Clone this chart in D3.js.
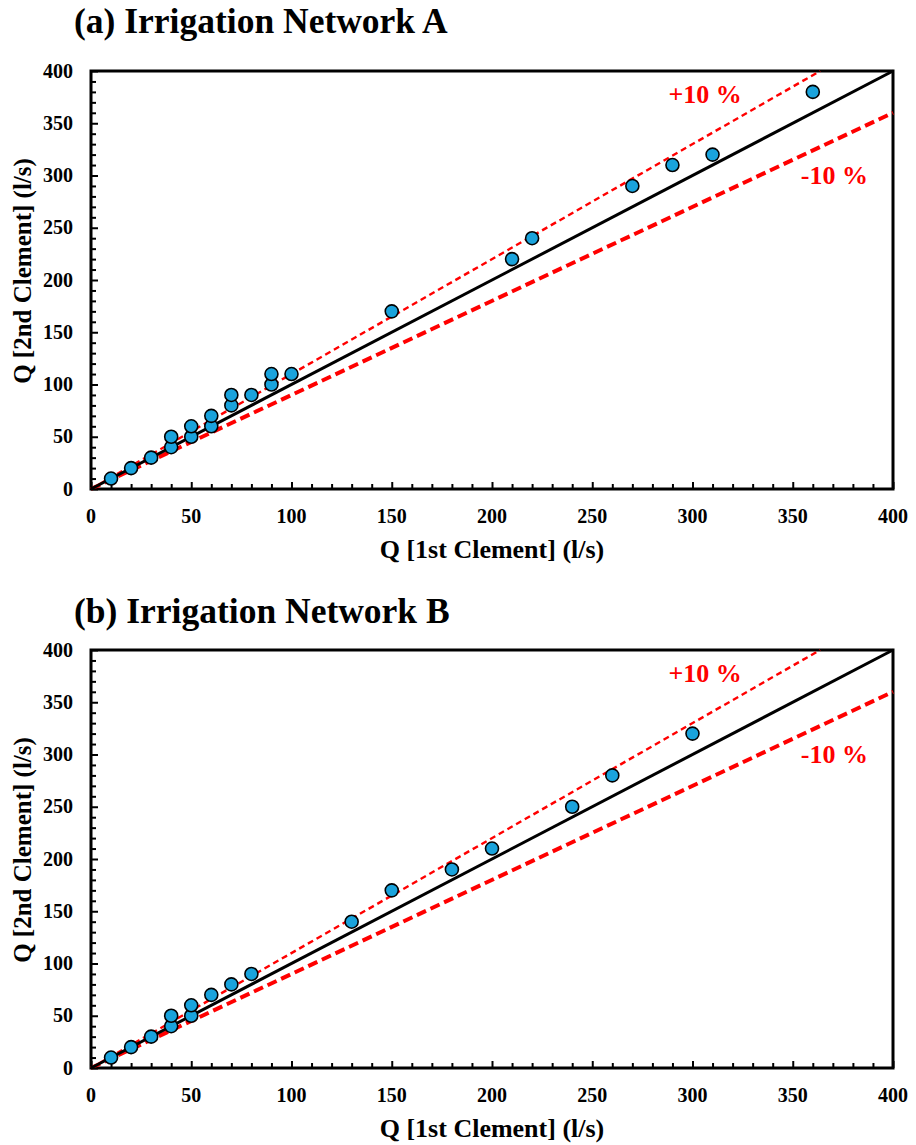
<!DOCTYPE html>
<html>
<head>
<meta charset="utf-8">
<script src="https://cdn.jsdelivr.net/npm/d3@7"></script>
<style>
  body { margin: 0; background: #fff; }
  svg { display: block; font-family: "Liberation Serif", "Times New Roman", serif; font-weight: bold; }
</style>
</head>
<body>
<svg id="chart" width="916" height="1145"></svg>
<script>
// values, [Q 1st Clement, Q 2nd Clement]
const networkA = [
  [10, 10], [20, 20], [30, 30], [40, 40], [40, 50], [50, 50], [50, 60],
  [60, 60], [60, 70], [70, 80], [70, 90], [80, 90], [90, 100], [90, 110],
  [100, 110], [150, 170], [210, 220], [220, 240], [270, 290], [290, 310],
  [310, 320], [360, 380]
];
const networkB = [
  [10, 10], [20, 20], [30, 30], [40, 40], [40, 50], [50, 50], [50, 60],
  [60, 70], [70, 80], [80, 90], [130, 140], [150, 170], [180, 190],
  [200, 210], [240, 250], [260, 280], [300, 320]
];
const titles = ["(a) Irrigation Network A", "(b) Irrigation Network B"];
const majorTicks = [0, 50, 100, 150, 200, 250, 300, 350, 400];
const minorTicks = d3.range(0, 401, 10);
const bandFactors = [1.1, 0.9];
const bandLabels = ["+10 %", "-10 %"];

const svg = d3.select("#chart");

function drawPanel(data, title, top, titleY) {
  const left = 91, right = 893, bottom = top + 418;
  const x = d3.scaleLinear().domain([0, 400]).range([left, right]);
  const y = d3.scaleLinear().domain([0, 400]).range([bottom, top]);

  const g = svg.append("g");

  g.append("text")
    .attr("x", 74).attr("y", titleY)
    .attr("font-size", 35.5)
    .text(title);

  // frame
  g.append("rect")
    .attr("x", left).attr("y", top)
    .attr("width", right - left).attr("height", bottom - top)
    .attr("fill", "none").attr("stroke", "#000").attr("stroke-width", 3);

  // reference lines
  const line = d3.line().x(d => x(d[0])).y(d => y(d[1]));
  g.append("path")
    .attr("d", line([[0, 0], [400 / bandFactors[0], 400]]))
    .attr("stroke", "#ff0000").attr("stroke-width", 2.4)
    .attr("stroke-dasharray", "6,4").attr("fill", "none");
  g.append("path")
    .attr("d", line([[0, 0], [400, 400 * bandFactors[1]]]))
    .attr("stroke", "#ff0000").attr("stroke-width", 4)
    .attr("stroke-dasharray", "10,5").attr("fill", "none");
  g.append("path")
    .attr("d", line([[0, 0], [400, 400]]))
    .attr("stroke", "#000").attr("stroke-width", 3).attr("fill", "none");

  // ticks pointing inward
  const xAxis = d3.axisTop(x).tickValues(minorTicks).tickFormat("")
    .tickSizeInner(5).tickSizeOuter(0);
  g.append("g").attr("transform", `translate(0,${bottom})`).call(xAxis)
    .call(s => s.select(".domain").remove())
    .call(s => s.selectAll("line").attr("stroke-width", 2)
      .attr("y2", d => d % 50 === 0 ? -7 : -5));
  const yAxis = d3.axisRight(y).tickValues(minorTicks).tickFormat("")
    .tickSizeInner(5).tickSizeOuter(0);
  g.append("g").attr("transform", `translate(${left},0)`).call(yAxis)
    .call(s => s.select(".domain").remove())
    .call(s => s.selectAll("line").attr("stroke-width", 2)
      .attr("x2", d => d % 50 === 0 ? 7 : 5));

  g.selectAll(".xl").data(majorTicks).join("text")
    .attr("x", d => x(d)).attr("y", bottom + 34)
    .attr("text-anchor", "middle").attr("font-size", 20)
    .text(d => d);
  g.selectAll(".yl").data(majorTicks).join("text")
    .attr("x", left - 18).attr("y", d => y(d) + 6.5)
    .attr("text-anchor", "end").attr("font-size", 20)
    .text(d => d);

  g.append("text")
    .attr("x", (left + right) / 2).attr("y", bottom + 69)
    .attr("text-anchor", "middle").attr("font-size", 26)
    .text("Q [1st Clement] (l/s)");
  g.append("text")
    .attr("transform", `translate(31,${(top + bottom) / 2 - 9}) rotate(-90)`)
    .attr("text-anchor", "middle").attr("font-size", 25)
    .text("Q [2nd Clement] (l/s)");

  g.append("text")
    .attr("x", x(288)).attr("y", top + 32)
    .attr("fill", "#ff0000").attr("font-size", 26)
    .text(bandLabels[0]);
  g.append("text")
    .attr("x", x(354)).attr("y", top + 113)
    .attr("fill", "#ff0000").attr("font-size", 26)
    .text(bandLabels[1]);

  g.selectAll("circle").data(data).join("circle")
    .attr("cx", d => x(d[0])).attr("cy", d => y(d[1]))
    .attr("r", 6.5)
    .attr("fill", "#1aa3dc").attr("stroke", "#000").attr("stroke-width", 1.6);
}

drawPanel(networkA, titles[0], 71, 33);
drawPanel(networkB, titles[1], 650, 623);
</script>
</body>
</html>
